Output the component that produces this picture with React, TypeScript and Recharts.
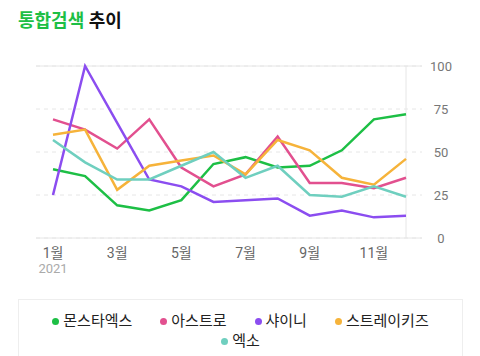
import React from 'react'
import { LineChart, Line, XAxis, YAxis, CartesianGrid, ReferenceLine } from 'recharts'

const months = ['1월', '2월', '3월', '4월', '5월', '6월', '7월', '8월', '9월', '10월', '11월', '12월']
const monstaX = [40, 36, 19, 16, 22, 43, 47, 41, 42, 51, 69, 72]
const astro = [69, 63, 52, 69, 41, 30, 37, 59, 32, 32, 29, 35]
const shinee = [25, 100, 67, 34, 30, 21, 22, 23, 13, 16, 12, 13]
const strayKids = [60, 63, 28, 42, 45, 48, 37, 57, 51, 35, 31, 46]
const exo = [57, 44, 34, 34, 42, 50, 35, 42, 25, 24, 30, 24]
const yTicks = [0, 25, 50, 75, 100]

const series = [
  { key: 'monstaX', name: '몬스타엑스', color: '#1dbf45', values: monstaX },
  { key: 'astro', name: '아스트로', color: '#e2508f', values: astro },
  { key: 'shinee', name: '샤이니', color: '#8b4df0', values: shinee },
  { key: 'strayKids', name: '스트레이키즈', color: '#f6b33a', values: strayKids },
  { key: 'exo', name: '엑소', color: '#6fcfbf', values: exo },
]

const data = months.map((m, i) => {
  const row: Record<string, string | number> = { month: m }
  series.forEach(s => { row[s.key] = s.values[i] })
  return row
})

const font = "Roboto, 'Noto Sans CJK KR', sans-serif"

function MonthTick({ x, y, payload, index }: any) {
  return <g>
    <text x={x} y={y + 12} textAnchor="middle" fontSize={14} fill="#666" fontFamily={font}>{payload.value}</text>
    {index === 0 && <text x={x} y={y + 27} textAnchor="middle" fontSize={13} fill="#aaa" fontFamily={font}>2021</text>}
  </g>
}

function ValueTick({ y, payload }: any) {
  return <text x={441} y={y + 5} textAnchor="middle" fontSize={13} fill="#777" fontFamily={font}>{payload.value}</text>
}

export default function App() {
  return <div style={{ position: 'absolute', left: 0, top: 0, width: 480, height: 356, background: '#fff', fontFamily: font, overflow: 'hidden' }}>
    <div style={{ position: 'absolute', left: 18, top: 6, fontSize: 18, fontWeight: 700, color: '#111' }}>
      <span style={{ color: '#1dbf45' }}>통합검색</span> 추이
    </div>
    <div style={{ position: 'absolute', left: 0, top: 0 }}>
      <LineChart width={480} height={290} data={data} margin={{ top: 66, right: 0, left: 36, bottom: 0 }}>
        <CartesianGrid vertical={false} stroke="#e6e6e6" strokeDasharray="4 4" />
        <ReferenceLine y={100} stroke="#e6e6e6" />
        <ReferenceLine y={0} stroke="#e6e6e6" />
        <ReferenceLine x="12월" stroke="#e6e6e6" />
        <XAxis dataKey="month" interval={1} axisLine={false} tickLine={false} height={52}
          padding={{ left: 17, right: 16 }} tick={<MonthTick />} />
        <YAxis orientation="right" domain={[0, 100]} ticks={yTicks} axisLine={false} tickLine={false}
          width={58} tick={<ValueTick />} />
        {series.map(s => <Line key={s.key} dataKey={s.key} name={s.name} stroke={s.color} strokeWidth={2.5}
          dot={false} type="linear" isAnimationActive={false} />)}
      </LineChart>
    </div>
    <div style={{ position: 'absolute', left: 18, top: 299, width: 445, height: 70, border: '1px solid #eee',
      display: 'flex', flexWrap: 'wrap', justifyContent: 'center', alignContent: 'flex-start',
      boxSizing: 'border-box', columnGap: 28, padding: '11px 20px 0' }}>
      {series.map(s => <div key={s.key} style={{ display: 'flex', alignItems: 'center', fontSize: 15, lineHeight: '20px', color: '#222' }}>
        <span style={{ width: 7, height: 7, borderRadius: 4, background: s.color, marginRight: 4, display: 'inline-block' }} />
        {s.name}
      </div>)}
    </div>
  </div>
}
